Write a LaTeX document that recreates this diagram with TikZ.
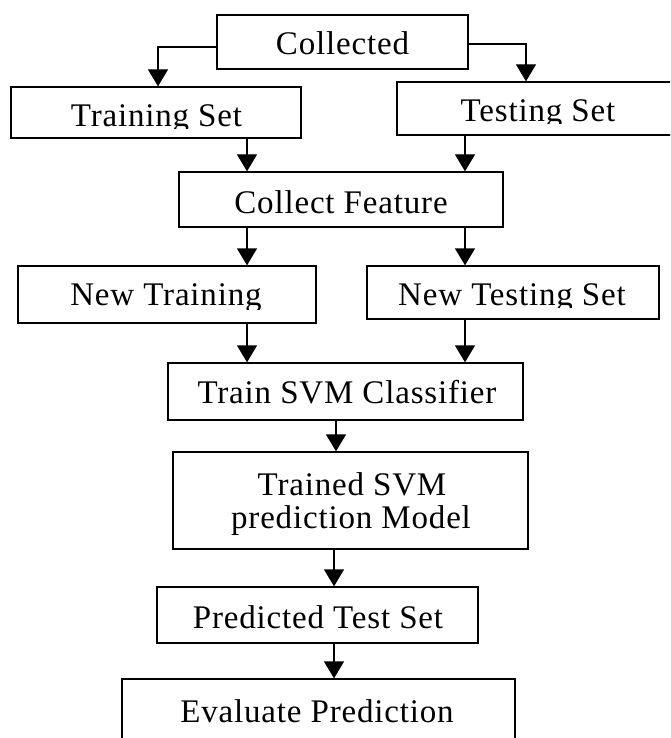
\documentclass[tikz,border=0pt]{standalone}
\usepackage{fontspec}
\setmainfont{Liberation Serif}[LetterSpace=2.5]
\usetikzlibrary{arrows.meta}
\tikzset{
  box/.style={draw, line width=1.3pt, rectangle, inner sep=0pt},
  lbl/.style={anchor=base, inner sep=0pt, font=\fontsize{33}{40}\selectfont},
  arr/.style={line width=1.3pt, -{Triangle[width=20pt,length=17pt]}}
}
\begin{document}
\begin{tikzpicture}[x=1pt, y=-1pt]
\useasboundingbox (0,0) rectangle (670,738);
\clip (0,0) rectangle (670,738);
% boxes
\node[box, minimum width=251pt, minimum height=54pt] (coll) at (342.5,42) {};
\node[box, minimum width=290pt, minimum height=51pt] (train) at (156,112.5) {};
\node[box, minimum width=275pt, minimum height=53pt] (test) at (534.5,108.5) {};
\node[box, minimum width=324pt, minimum height=55pt] (feat) at (341,199.5) {};
\node[box, minimum width=298pt, minimum height=57pt] (ntrain) at (167,294.5) {};
\node[box, minimum width=292pt, minimum height=53pt] (ntest) at (513,292.5) {};
\node[box, minimum width=355pt, minimum height=57pt] (svm) at (345.5,391.5) {};
\node[box, minimum width=355pt, minimum height=97pt] (model) at (350.5,500.5) {};
\node[box, minimum width=321pt, minimum height=56pt] (pred) at (317.5,615) {};
\node[box, minimum width=393pt, minimum height=81pt] (eval) at (318.5,719.5) {};
% labels (some are cut off at the bottom, as in the source)
\node[lbl] (collT) at (342.5,55) {Collected};
\begin{scope}
\clip (20,90) rectangle (295,128.5);
\node[lbl] (trainT) at (156.5,127) {Training Set};
\end{scope}
\begin{scope}
\clip (400,85) rectangle (668,123.5);
\node[lbl] (testT) at (538,122) {Testing Set};
\end{scope}
\node[lbl] (featT) at (341,213) {Collect Feature};
\begin{scope}
\clip (22,270) rectangle (312,309.5);
\node[lbl] (ntrainT) at (166,305) {New Training};
\end{scope}
\begin{scope}
\clip (370,270) rectangle (656,307.5);
\node[lbl] (ntestT) at (512,305) {New Testing Set};
\end{scope}
\node[lbl] (svmT) at (347,403) {Train SVM Classifier};
\node[lbl] (modelT1) at (352,495) {Trained SVM};
\node[lbl] (modelT2) at (351,528) {prediction Model};
\node[lbl] (predT) at (318,628) {Predicted Test Set};
\node[lbl] (evalT) at (317,722) {Evaluate Prediction};
% column coordinates
\coordinate (cl) at (247,0);
\coordinate (cr) at (465,0);
\coordinate (cm) at (335,0);
% connectors
\draw[arr] ([yshift=-5pt]coll.west) -| ([xshift=2pt]train.north);
\draw[arr] ([yshift=-2pt]coll.east) -| ([xshift=-8.5pt]test.north);
\draw[arr] (train.south -| cl) -- (feat.north -| cl);
\draw[arr] (test.south -| cr) -- (feat.north -| cr);
\draw[arr] (feat.south -| cl) -- (ntrain.north -| cl);
\draw[arr] (feat.south -| cr) -- (ntest.north -| cr);
\draw[arr] (ntrain.south -| cl) -- (svm.north -| cl);
\draw[arr] (ntest.south -| cr) -- (svm.north -| cr);
\draw[arr] ([xshift=1pt]svm.south -| cm) -- ([xshift=1pt]model.north -| cm);
\draw[arr] ([xshift=-1pt]model.south -| cm) -- ([xshift=-1pt]pred.north -| cm);
\draw[arr] ([xshift=-1pt]pred.south -| cm) -- ([xshift=-1pt]eval.north -| cm);
\end{tikzpicture}
\end{document}
